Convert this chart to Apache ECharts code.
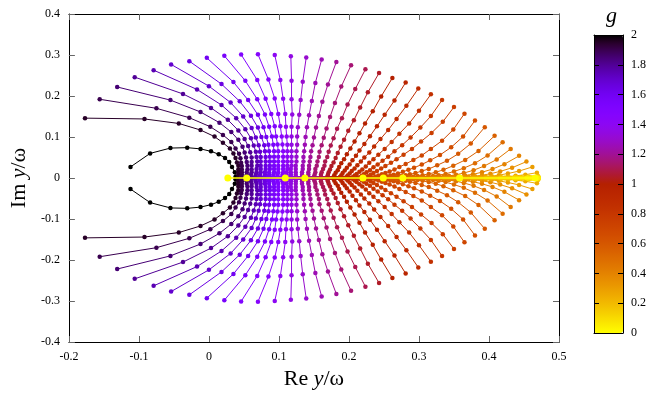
<!DOCTYPE html>
<html><head><meta charset="utf-8">
<script src="https://cdn.jsdelivr.net/npm/echarts@6/dist/echarts.min.js"></script>
<style>html,body{margin:0;padding:0;background:#fff}#c{width:649px;height:400px}</style>
</head><body><div id="c"></div>
<script>
// coupling g of each curve (colour scale)
const gValues = [2.00,1.95,1.90,1.85,1.80,1.75,1.70,1.65,1.60,1.55,1.50,1.45,1.40,1.35,1.30,1.25,1.20,1.15,1.10,1.05,1.00,0.95,0.90,0.85,0.80,0.75,0.70,0.65,0.60,0.55,0.50,0.45,0.40,0.35,0.30,0.25,0.20,0.15,0.10,0.05];
// upper branch [Re y/w, Im y/w], outer point first (lower branch is the complex conjugate)
const g200 = [[-0.112,0.027],[-0.084,0.060],[-0.055,0.073],[-0.031,0.074],[-0.012,0.071],[0.003,0.065],[0.014,0.058],[0.023,0.049],[0.029,0.039],[0.033,0.027],[0.037,0.014],[0.038,0.003]];
const g195 = [[-0.177,0.146],[-0.092,0.144],[-0.043,0.133],[-0.012,0.117],[0.008,0.101],[0.020,0.086],[0.030,0.072],[0.035,0.060],[0.038,0.049],[0.040,0.038],[0.042,0.030],[0.042,0.021],[0.042,0.014],[0.042,0.008],[0.042,0.003]];
const g190 = [[-0.156,0.192],[-0.075,0.170],[-0.028,0.147],[0.002,0.125],[0.020,0.105],[0.032,0.088],[0.038,0.072],[0.043,0.059],[0.045,0.048],[0.046,0.037],[0.047,0.029],[0.047,0.021],[0.047,0.014],[0.047,0.008],[0.046,0.003]];
const g185 = [[-0.131,0.222],[-0.055,0.190],[-0.012,0.161],[0.015,0.135],[0.032,0.112],[0.042,0.093],[0.048,0.076],[0.051,0.062],[0.053,0.050],[0.054,0.039],[0.055,0.030],[0.055,0.021],[0.054,0.014],[0.054,0.008],[0.053,0.003]];
const g180 = [[-0.106,0.246],[-0.037,0.205],[0.003,0.171],[0.027,0.142],[0.042,0.116],[0.051,0.095],[0.056,0.078],[0.059,0.063],[0.061,0.050],[0.061,0.039],[0.061,0.030],[0.061,0.021],[0.061,0.014],[0.060,0.008],[0.059,0.003]];
const g175 = [[-0.079,0.263],[-0.017,0.216],[0.018,0.178],[0.039,0.146],[0.052,0.119],[0.060,0.097],[0.064,0.079],[0.067,0.064],[0.068,0.051],[0.069,0.040],[0.069,0.030],[0.068,0.022],[0.068,0.014],[0.067,0.008],[0.066,0.003]];
const g170 = [[-0.054,0.277],[0.000,0.224],[0.031,0.184],[0.049,0.150],[0.061,0.122],[0.067,0.099],[0.071,0.080],[0.073,0.064],[0.074,0.051],[0.074,0.040],[0.074,0.030],[0.074,0.022],[0.074,0.014],[0.073,0.008],[0.072,0.003]];
const g165 = [[-0.028,0.285],[0.018,0.229],[0.044,0.187],[0.060,0.152],[0.070,0.123],[0.075,0.100],[0.079,0.080],[0.080,0.065],[0.081,0.051],[0.081,0.040],[0.081,0.030],[0.081,0.022],[0.080,0.014],[0.080,0.008],[0.079,0.003]];
const g160 = [[-0.003,0.293],[0.035,0.234],[0.056,0.190],[0.070,0.154],[0.078,0.124],[0.082,0.100],[0.085,0.081],[0.086,0.065],[0.087,0.052],[0.087,0.040],[0.087,0.030],[0.087,0.022],[0.086,0.014],[0.086,0.008],[0.085,0.003]];
const g155 = [[0.022,0.298],[0.052,0.237],[0.069,0.192],[0.080,0.155],[0.086,0.125],[0.090,0.101],[0.092,0.081],[0.093,0.065],[0.093,0.052],[0.093,0.040],[0.093,0.030],[0.093,0.022],[0.093,0.014],[0.092,0.008],[0.092,0.003]];
const g150 = [[0.046,0.301],[0.069,0.239],[0.081,0.193],[0.089,0.156],[0.094,0.126],[0.096,0.101],[0.098,0.082],[0.099,0.065],[0.099,0.052],[0.099,0.040],[0.099,0.030],[0.099,0.022],[0.099,0.014],[0.098,0.008],[0.098,0.003]];
const g145 = [[0.070,0.302],[0.085,0.240],[0.094,0.194],[0.099,0.156],[0.102,0.126],[0.104,0.101],[0.105,0.082],[0.106,0.065],[0.106,0.052],[0.106,0.040],[0.106,0.030],[0.106,0.022],[0.106,0.014],[0.105,0.008],[0.105,0.003]];
const g140 = [[0.094,0.300],[0.102,0.239],[0.106,0.193],[0.109,0.156],[0.110,0.125],[0.111,0.101],[0.112,0.081],[0.112,0.065],[0.112,0.052],[0.112,0.040],[0.112,0.030],[0.112,0.022],[0.111,0.014],[0.111,0.008],[0.111,0.003]];
const g135 = [[0.117,0.297],[0.118,0.237],[0.118,0.192],[0.119,0.155],[0.118,0.125],[0.118,0.101],[0.118,0.081],[0.118,0.065],[0.118,0.052],[0.118,0.040],[0.118,0.030],[0.117,0.022],[0.117,0.014],[0.117,0.008],[0.117,0.003]];
const g130 = [[0.139,0.294],[0.134,0.235],[0.131,0.190],[0.129,0.154],[0.127,0.124],[0.126,0.101],[0.126,0.081],[0.125,0.065],[0.125,0.052],[0.125,0.040],[0.124,0.030],[0.124,0.022],[0.124,0.014],[0.124,0.008],[0.124,0.003]];
const g125 = [[0.161,0.289],[0.152,0.232],[0.147,0.188],[0.143,0.153],[0.140,0.124],[0.138,0.100],[0.137,0.081],[0.136,0.065],[0.135,0.051],[0.135,0.040],[0.134,0.030],[0.134,0.022],[0.133,0.014],[0.133,0.008],[0.133,0.003]];
const g120 = [[0.182,0.283],[0.170,0.228],[0.162,0.186],[0.157,0.151],[0.153,0.123],[0.150,0.099],[0.148,0.080],[0.146,0.065],[0.145,0.051],[0.144,0.040],[0.143,0.030],[0.143,0.022],[0.142,0.014],[0.142,0.008],[0.141,0.003]];
const g115 = [[0.203,0.275],[0.189,0.223],[0.180,0.183],[0.173,0.149],[0.168,0.121],[0.164,0.098],[0.161,0.080],[0.158,0.064],[0.157,0.051],[0.155,0.040],[0.154,0.030],[0.152,0.022],[0.152,0.014],[0.151,0.008],[0.150,0.003]];
const g110 = [[0.2235,0.265],[0.209,0.217],[0.198,0.179],[0.190,0.146],[0.183,0.120],[0.178,0.097],[0.174,0.079],[0.171,0.064],[0.169,0.051],[0.166,0.040],[0.165,0.030],[0.163,0.022],[0.161,0.014],[0.160,0.008],[0.160,0.003]];
const g105 = [[0.243,0.256],[0.227,0.209],[0.216,0.172],[0.207,0.141],[0.199,0.115],[0.193,0.093],[0.188,0.076],[0.184,0.061],[0.181,0.049],[0.178,0.038],[0.175,0.029],[0.173,0.021],[0.171,0.014],[0.170,0.008],[0.169,0.003]];
const g100 = [[0.262,0.244],[0.246,0.199],[0.234,0.163],[0.223,0.133],[0.215,0.109],[0.208,0.089],[0.202,0.072],[0.197,0.058],[0.193,0.046],[0.189,0.036],[0.186,0.027],[0.184,0.019],[0.181,0.013],[0.179,0.007],[0.178,0.0025]];
const g095 = [[0.281,0.233],[0.265,0.189],[0.251,0.154],[0.240,0.126],[0.230,0.102],[0.222,0.083],[0.215,0.067],[0.210,0.054],[0.205,0.043],[0.201,0.033],[0.197,0.025],[0.194,0.018],[0.191,0.012],[0.189,0.007],[0.187,0.0023]];
const g090 = [[0.299,0.218],[0.282,0.176],[0.268,0.144],[0.256,0.117],[0.245,0.095],[0.236,0.077],[0.229,0.062],[0.222,0.050],[0.217,0.040],[0.212,0.031],[0.208,0.023],[0.204,0.017],[0.201,0.011],[0.198,0.006],[0.196,0.002]];
const g085 = [[0.317,0.204],[0.300,0.164],[0.286,0.133],[0.272,0.108],[0.261,0.088],[0.251,0.071],[0.242,0.057],[0.235,0.046],[0.229,0.037],[0.224,0.028],[0.219,0.021],[0.215,0.015],[0.211,0.010],[0.208,0.006],[0.205,0.002]];
const g080 = [[0.333,0.190],[0.317,0.151],[0.302,0.123],[0.288,0.099],[0.276,0.080],[0.265,0.065],[0.256,0.052],[0.248,0.042],[0.241,0.033],[0.235,0.026],[0.230,0.019],[0.225,0.014],[0.221,0.009],[0.218,0.005],[0.215,0.0018]];
const g075 = [[0.350,0.173],[0.334,0.137],[0.318,0.110],[0.303,0.089],[0.290,0.071],[0.278,0.057],[0.268,0.046],[0.260,0.037],[0.252,0.029],[0.246,0.023],[0.240,0.017],[0.235,0.012],[0.231,0.008],[0.227,0.0045],[0.224,0.0015]];
const g070 = [[0.365,0.157],[0.349,0.118],[0.333,0.091],[0.317,0.071],[0.304,0.055],[0.292,0.044],[0.281,0.034],[0.272,0.027],[0.265,0.021],[0.258,0.016],[0.252,0.012],[0.247,0.009],[0.242,0.006],[0.238,0.003],[0.235,0.0011]];
const g065 = [[0.380,0.140],[0.363,0.101],[0.346,0.075],[0.330,0.056],[0.316,0.043],[0.304,0.033],[0.293,0.025],[0.285,0.020],[0.277,0.015],[0.270,0.011],[0.264,0.008],[0.259,0.006],[0.254,0.004],[0.250,0.002],[0.247,0.0007]];
const g060 = [[0.394,0.124],[0.374,0.084],[0.356,0.059],[0.340,0.042],[0.326,0.031],[0.314,0.022],[0.304,0.017],[0.295,0.012],[0.287,0.009],[0.281,0.007],[0.275,0.005],[0.270,0.003],[0.266,0.002],[0.262,0.001],[0.259,0.0004]];
const g055 = [[0.408,0.103],[0.385,0.066],[0.366,0.044],[0.349,0.030],[0.335,0.020],[0.324,0.014],[0.314,0.010],[0.305,0.007],[0.298,0.005],[0.292,0.003],[0.287,0.002],[0.282,0.0013],[0.278,0.0007],[0.274,0.0003],[0.272,0.0001]];
const g050 = [[0.4195,0.087],[0.398,0.055],[0.380,0.036],[0.364,0.024],[0.350,0.016],[0.338,0.010],[0.328,0.007],[0.320,0.005],[0.313,0.003],[0.307,0.002],[0.302,0.0012],[0.297,0.0007],[0.293,0.0004],[0.289,0.0002],[0.287,0]];
const g045 = [[0.431,0.071],[0.411,0.045],[0.393,0.029],[0.378,0.019],[0.364,0.012],[0.353,0.008],[0.343,0.005],[0.335,0.0035],[0.328,0.0023],[0.322,0.0014],[0.317,0.0009],[0.312,0.0005],[0.308,0.0003],[0.304,0.0001],[0.302,0]];
const g040 = [[0.443,0.054],[0.422,0.0337],[0.405,0.0218],[0.390,0.014],[0.377,0.0091],[0.366,0.0059],[0.357,0.0038],[0.349,0.0024],[0.343,0.0015],[0.337,0.0009],[0.332,0.0005],[0.328,0.0003],[0.324,0.0001],[0.321,0],[0.318,0]];
const g035 = [[0.4535,0.040],[0.433,0.025],[0.416,0.0161],[0.402,0.0104],[0.390,0.0067],[0.380,0.0044],[0.371,0.0028],[0.364,0.0018],[0.358,0.0011],[0.353,0.0007],[0.349,0.0004],[0.345,0.0002],[0.342,0.0001],[0.339,0],[0.336,0]];
const g030 = [[0.462,0.027],[0.443,0.0169],[0.427,0.0109],[0.414,0.007],[0.404,0.0045],[0.395,0.0029],[0.387,0.0019],[0.381,0.0012],[0.376,0.0008],[0.371,0.0005],[0.367,0.0003],[0.364,0.0001],[0.361,0.0001],[0.358,0],[0.356,0]];
const g025 = [[0.4685,0.013],[0.452,0.0081],[0.438,0.0052],[0.427,0.0034],[0.417,0.0022],[0.410,0.0014],[0.403,0.0009],[0.398,0.0006],[0.393,0.0004],[0.389,0.0002],[0.386,0.0001],[0.383,0],[0.380,0],[0.378,0],[0.376,0]];
const g020 = [[0.470,0.005],[0.457,0.003],[0.446,0.002],[0.437,0.0013],[0.429,0.0008],[0.423,0.0005],[0.417,0.0003],[0.413,0.0002],[0.409,0.0001],[0.406,0],[0.403,0],[0.401,0],[0.399,0],[0.397,0],[0.396,0]];
const g015 = [[0.471,0.002],[0.461,0.0012],[0.453,0.0008],[0.446,0.0005],[0.440,0.0003],[0.435,0.0002],[0.431,0.0001],[0.428,0],[0.425,0],[0.423,0],[0.421,0],[0.419,0],[0.418,0],[0.417,0],[0.416,0]];
const g010 = [[0.471,0.001],[0.465,0.0005],[0.460,0.0003],[0.455,0.0002],[0.451,0.0001],[0.448,0],[0.445,0],[0.443,0],[0.441,0],[0.440,0],[0.439,0],[0.438,0],[0.437,0],[0.436,0],[0.436,0]];
const g005 = [[0.471,0],[0.468,0],[0.466,0],[0.464,0],[0.462,0],[0.460,0],[0.459,0],[0.458,0],[0.457,0],[0.456,0],[0.456,0],[0.455,0],[0.455,0],[0.455,0],[0.454,0]];
// g = 0: purely real solutions
const g000Re = [0.027,0.054,0.109,0.137,0.220,0.249,0.277,0.358,0.466];
const g000Im = [0,0,0,0,0,0,0,0,0];
// common real end point every branch starts from
const branchStart = [0.466, 0];

const curves = [g200,g195,g190,g185,g180,g175,g170,g165,g160,g155,g150,g145,g140,g135,g130,g125,g120,g115,g110,g105,g100,g095,g090,g085,g080,g075,g070,g065,g060,g055,g050,g045,g040,g035,g030,g025,g020,g015,g010,g005];

function palette(g){
  const x = Math.max(0, Math.min(1, 1 - g/2));
  const r = Math.sqrt(x), gg = x*x*x, b = Math.max(0, Math.sin(2*Math.PI*x));
  return 'rgb(' + Math.round(r*255) + ',' + Math.round(gg*255) + ',' + Math.round(b*255) + ')';
}
const stops = [];
for (let i = 0; i <= 40; i++) stops.push(palette(i*0.05));

const FONT = 'Liberation Serif';
const series = [];
curves.forEach((pts, i) => {
  const col = palette(gValues[i]);
  const upper = [branchStart].concat(pts.slice().reverse());
  const lower = upper.map(p => [p[0], -p[1]]);
  [upper, lower].forEach(d => series.push({
    type: 'line', data: d, xAxisIndex: 0, yAxisIndex: 0,
    symbol: 'circle', symbolSize: 4.5, showSymbol: true, showAllSymbol: true,
    lineStyle: {width: 1, color: col}, itemStyle: {color: col},
    silent: true, animation: false, z: 2
  }));
});
series.push({
  type: 'line', data: g000Re.map((x, i) => [x, g000Im[i]]), xAxisIndex: 0, yAxisIndex: 0,
  symbol: 'circle', symbolSize: 7, showAllSymbol: true,
  lineStyle: {width: 1.5, color: palette(0)}, itemStyle: {color: palette(0)},
  silent: true, animation: false, z: 3
});

const lbl = {color: '#000', fontFamily: FONT, fontSize: 12};
const line = {onZero: false, lineStyle: {color: '#000', width: 1}};
const mainTick = {inside: true, length: 6, lineStyle: {color: '#666'}};
const chart = echarts.init(document.getElementById('c'), null, {renderer: 'canvas'});
chart.setOption({
  animation: false,
  backgroundColor: '#fff',
  title: {text: 'g', left: 601, top: 0, textStyle: {fontFamily: FONT, fontStyle: 'italic', fontWeight: 'normal', fontSize: 22, color: '#000'}},
  grid: [
    {left: 64, top: 14, width: 495, height: 328, show: false},
    {left: 594, top: 35, width: 29, height: 298, show: false}
  ],
  visualMap: {
    type: 'continuous', min: 0, max: 2, seriesIndex: [], calculable: false, hoverLink: false,
    left: 594, top: 35, itemWidth: 29, itemHeight: 298, padding: 0, orient: 'vertical',
    inRange: {color: stops}, text: null, showLabel: false, z: 4
  },
  xAxis: [
    {type: 'value', gridIndex: 0, min: -0.2, max: 0.5, interval: 0.1, position: 'bottom',
     name: 'Re {i|y}/ω', nameLocation: 'middle', nameGap: 26,
     nameTextStyle: {fontFamily: FONT, fontSize: 22, color: '#000', rich: {i: {fontFamily: FONT, fontSize: 22, fontStyle: 'italic', color: '#000'}}},
     axisLine: line, axisTick: mainTick,
     axisLabel: Object.assign({margin: 9}, lbl), splitLine: {show: false}},
    {type: 'value', gridIndex: 0, min: -0.2, max: 0.5, interval: 0.1, position: 'top',
     axisLine: line, axisTick: mainTick, axisLabel: {show: false}, splitLine: {show: false}},
    {type: 'value', gridIndex: 1, min: 0, max: 1, position: 'bottom', z: 10,
     axisLine: line, axisTick: {show: false}, axisLabel: {show: false}, splitLine: {show: false}},
    {type: 'value', gridIndex: 1, min: 0, max: 1, position: 'top', z: 10,
     axisLine: line, axisTick: {show: false}, axisLabel: {show: false}, splitLine: {show: false}}
  ],
  yAxis: [
    {type: 'value', gridIndex: 0, min: -0.4, max: 0.4, interval: 0.1, position: 'left',
     name: 'Im {i|y}/ω', nameLocation: 'middle', nameGap: 33, nameRotate: 90,
     nameTextStyle: {fontFamily: FONT, fontSize: 22, color: '#000', rich: {i: {fontFamily: FONT, fontSize: 22, fontStyle: 'italic', color: '#000'}}},
     axisLine: line, axisTick: mainTick,
     axisLabel: Object.assign({margin: 9}, lbl), splitLine: {show: false}},
    {type: 'value', gridIndex: 0, min: -0.4, max: 0.4, interval: 0.1, position: 'right',
     axisLine: line, axisTick: mainTick, axisLabel: {show: false}, splitLine: {show: false}},
    {type: 'value', gridIndex: 1, min: 0, max: 2, interval: 0.2, position: 'left', z: 10,
     axisLine: line, axisTick: {inside: true, length: 5, lineStyle: {color: '#000'}},
     axisLabel: {show: false}, splitLine: {show: false}},
    {type: 'value', gridIndex: 1, min: 0, max: 2, interval: 0.2, position: 'right', z: 10,
     axisLine: line, axisTick: {inside: true, length: 5, lineStyle: {color: '#000'}},
     axisLabel: Object.assign({margin: 8}, lbl), splitLine: {show: false}}
  ],
  series: series
});
</script></body></html>
